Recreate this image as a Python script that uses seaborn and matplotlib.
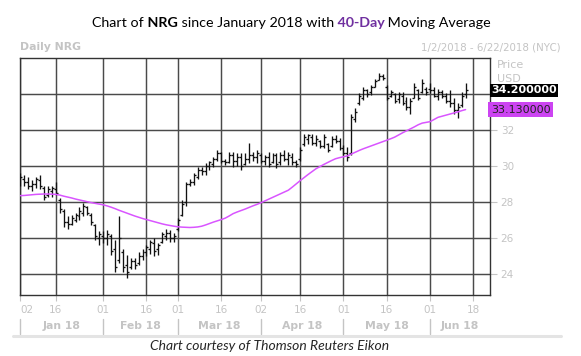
import numpy as np
import pandas as pd
import matplotlib
matplotlib.use("Agg")
import matplotlib.pyplot as plt
import matplotlib.transforms as mtransforms
from matplotlib.lines import Line2D
import seaborn as sns

# NRG daily bars from 2 Jan 2018
opens = [29.0, 29.3, 29.1, 28.9, 29.0, 29.2, 28.8, 28.4, 28.6, 28.7,
         28.1, 27.5, 26.9, 26.8, 27.0, 27.2, 27.4, 27.7, 27.3, 26.7, 26.0,
         26.1, 26.0, 26.1, 25.4, 24.8, 25.2, 24.5, 24.4, 24.7, 24.6,
         25.0, 25.2, 25.4, 25.7, 25.4, 25.8, 26.1, 26.3, 26.0,
         26.5, 27.3, 28.0, 29.0, 29.1, 29.4, 29.8, 29.7, 30.0, 30.1,
         30.4, 30.7, 30.3, 30.2, 30.6, 30.3, 30.5, 30.1, 30.4, 30.6, 30.5,
         30.6, 30.3, 30.5, 30.2, 30.6, 30.2, 30.6, 30.4, 30.5, 30.2,
         30.4, 31.2, 31.5, 31.6, 31.3, 31.4, 31.1, 31.2, 31.1, 31.5, 31.4,
         31.0, 30.7, 30.7, 32.6, 33.5, 33.8, 34.2, 34.1, 34.4, 34.8,
         35.0, 34.4, 33.9, 34.0, 33.7, 33.9, 33.6, 33.3, 33.8, 34.2, 34.1, 34.3,
         34.3, 34.2, 33.9, 34.1, 33.9, 33.6, 33.5, 33.1, 33.4, 34.0]
highs = [29.6, 29.5, 29.4, 29.2, 29.4, 29.5, 28.9, 28.9, 28.9, 29.1,
         28.2, 27.6, 27.2, 27.3, 27.4, 27.7, 27.95, 27.8, 27.4, 26.8, 26.4,
         26.4, 26.45, 26.2, 25.9, 27.2, 25.4, 25.05, 24.9, 24.9, 25.2,
         25.4, 25.6, 25.9, 26.0, 25.7, 26.35, 26.5, 26.45, 26.3,
         27.1, 28.1, 29.1, 29.3, 29.6, 29.95, 29.95, 30.15, 30.3, 30.5,
         30.9, 30.8, 30.4, 30.8, 30.8, 30.7, 30.7, 30.7, 31.25, 30.8, 30.9,
         30.7, 30.6, 30.8, 30.7, 30.7, 30.8, 30.9, 30.8, 30.7, 30.35,
         31.05, 31.8, 31.8, 31.8, 31.7, 31.45, 31.8, 31.25, 31.65, 31.7, 31.55,
         31.15, 31.05, 32.9, 33.2, 34.05, 34.4, 34.3, 34.5, 34.85, 35.15,
         35.1, 34.5, 34.2, 34.05, 34.1, 34.1, 33.85, 33.75, 34.6, 34.25, 34.85, 34.4,
         34.6, 34.4, 34.3, 34.2, 34.05, 34.2, 33.75, 33.5, 34.1, 34.6]
lows = [28.9, 28.9, 28.7, 28.6, 28.8, 28.7, 28.1, 28.3, 28.3, 28.4,
        27.4, 26.6, 26.5, 26.7, 26.9, 27.0, 27.2, 27.3, 26.7, 25.9, 25.6,
        25.7, 25.6, 25.05, 24.1, 24.6, 24.1, 23.75, 24.3, 24.3, 24.5,
        24.8, 25.0, 25.1, 25.0, 25.05, 25.7, 25.9, 25.8, 25.8,
        26.4, 27.2, 27.75, 28.9, 28.95, 29.3, 29.5, 29.5, 29.8, 29.95,
        30.25, 30.15, 30.05, 30.15, 29.95, 30.0, 29.8, 30.05, 30.15, 30.3, 30.15,
        30.15, 30.05, 29.95, 30.15, 29.9, 30.05, 30.25, 30.05, 30.05, 29.95,
        30.3, 31.1, 31.2, 31.15, 31.1, 31.0, 31.0, 30.8, 31.05, 31.25, 30.9,
        30.6, 30.3, 30.6, 32.45, 33.4, 33.65, 33.85, 33.95, 34.4, 34.8,
        34.8, 33.65, 33.85, 33.5, 33.5, 33.4, 33.1, 32.9, 33.75, 33.65, 34.05, 33.95,
        34.05, 33.85, 33.65, 33.75, 33.5, 33.3, 32.9, 32.65, 33.3, 33.8]
closes = [29.4, 29.1, 28.9, 29.0, 29.3, 28.9, 28.3, 28.7, 28.8, 28.5,
          27.6, 26.9, 26.8, 27.1, 27.3, 27.5, 27.8, 27.4, 26.9, 26.1, 26.2,
          26.0, 26.2, 25.3, 24.4, 26.0, 24.4, 24.1, 24.7, 24.5, 25.0,
          25.2, 25.5, 25.8, 25.3, 25.6, 26.2, 26.3, 26.0, 26.1,
          27.0, 27.9, 29.0, 29.1, 29.5, 29.8, 29.7, 30.0, 30.2, 30.4,
          30.7, 30.3, 30.2, 30.6, 30.3, 30.5, 30.0, 30.4, 30.6, 30.5, 30.7,
          30.3, 30.5, 30.1, 30.6, 30.1, 30.6, 30.4, 30.6, 30.2, 30.1,
          30.9, 31.6, 31.7, 31.3, 31.5, 31.1, 31.6, 30.9, 31.5, 31.4, 31.0,
          30.7, 30.5, 32.7, 33.0, 33.9, 34.2, 34.0, 34.4, 34.7, 35.0,
          34.9, 33.8, 34.1, 33.6, 34.0, 33.5, 33.3, 33.6, 34.4, 33.8, 34.6, 34.1,
          34.2, 33.9, 34.1, 33.9, 33.6, 33.5, 33.1, 33.3, 33.9, 34.2]
# 40-day moving average as drawn
ma40 = [28.35, 28.36, 28.38, 28.40, 28.42, 28.43, 28.44, 28.44, 28.43, 28.42,
        28.38, 28.32, 28.27, 28.22, 28.16, 28.11, 28.06, 28.01, 27.96, 27.92, 27.88,
        27.84, 27.78, 27.71, 27.63, 27.54, 27.46, 27.38, 27.30, 27.22, 27.15,
        27.08, 27.02, 26.96, 26.90, 26.84, 26.78, 26.73, 26.69, 26.65,
        26.62, 26.60, 26.59, 26.58, 26.59, 26.61, 26.65, 26.72, 26.80, 26.88,
        26.95, 27.02, 27.10, 27.22, 27.35, 27.44, 27.52, 27.60, 27.69, 27.78, 27.86,
        27.95, 28.05, 28.15, 28.25, 28.35, 28.45, 28.55, 28.65, 28.82, 29.00,
        29.18, 29.35, 29.52, 29.68, 29.84, 29.96, 30.08, 30.19, 30.30, 30.40, 30.46,
        30.51, 30.56, 30.66, 30.76, 30.86, 30.95, 31.03, 31.11, 31.19, 31.27,
        31.35, 31.43, 31.51, 31.60, 31.72, 31.84, 31.95, 32.06, 32.17, 32.29, 32.38, 32.42,
        32.46, 32.58, 32.70, 32.76, 32.82, 32.88, 32.94, 33.00, 33.07, 33.13]

tick_days = ["2018-01-02", "2018-01-16", "2018-02-01", "2018-02-16", "2018-03-01", "2018-03-16",
             "2018-04-02", "2018-04-16", "2018-05-01", "2018-05-16", "2018-06-01", "2018-06-18"]
tick_labels = ["02", "16", "01", "16", "01", "16", "02", "16", "01", "16", "01", "18"]
months = ["Jan 18", "Feb 18", "Mar 18", "Apr 18", "May 18", "Jun 18"]
month_starts = ["2018-01-02", "2018-02-01", "2018-03-01", "2018-04-02", "2018-05-01", "2018-06-01"]
price_ticks = [24, 26, 28, 30, 32, 34]
price_labels = ["24", "26", "28", "30", "32", ""]  # 34 sits under the last-price tag
last_price = 34.20
last_ma = 33.13

# trading-day axis (NYSE holidays removed)
holidays = pd.to_datetime(["2018-01-15", "2018-02-19", "2018-03-30", "2018-05-28"])
days = pd.bdate_range("2018-01-02", "2018-06-22")
days = days[~days.isin(holidays)]
pos = {d: i for i, d in enumerate(days)}

n = len(closes)
df = pd.DataFrame({"day": days[:n], "open": opens, "high": highs, "low": lows,
                   "close": closes, "ma": ma40})
df["x"] = np.arange(n)

sns.set_theme(style="white")
plt.rcParams["font.family"] = ["DejaVu Sans"]

W, H = 581, 356
fig = plt.figure(figsize=(W / 100, H / 100), dpi=100)
ax = fig.add_axes([20 / W, 1 - 294.8 / H, 469.6 / W, 236.5 / H])

light = "#c4c4c4"
grid = "#4a4a4a"

# OHLC bars
ax.vlines(df.x, df.low, df.high, color="#111111", lw=0.95, zorder=3)
ax.hlines(df.open, df.x - 0.5, df.x, color="#111111", lw=0.95, zorder=3)
ax.hlines(df.close, df.x, df.x + 0.5, color="#111111", lw=0.95, zorder=3)

sns.lineplot(data=df, x="x", y="ma", color="#d955ff", lw=1.1, ax=ax, zorder=4)

ax.set_xlim(-0.1, 119.1)
ax.set_ylim(22.84, 35.98)
ax.set_xlabel("")
ax.set_ylabel("")

xt = [pos[pd.Timestamp(d)] for d in tick_days]
ax.set_xticks(xt)
ax.set_xticklabels(tick_labels)
ax.get_xticklabels()[0].set_ha("left")
ax.set_yticks(price_ticks)
ax.set_yticklabels(price_labels)
ax.yaxis.tick_right()
ax.grid(True, color=grid, lw=1.05)
ax.set_axisbelow(True)
ax.tick_params(axis="x", bottom=True, length=4, width=0.8, color=light,
               labelcolor=light, labelsize=7.5, pad=3)
ax.tick_params(axis="y", right=True, left=False, length=5, width=0.8, color=light,
               labelcolor=light, labelsize=7.5, pad=3)
for s in ax.spines.values():
    s.set_color("#333333")
    s.set_linewidth(1.0)

# last value tags on the price scale
tr = mtransforms.blended_transform_factory(ax.transAxes, ax.transData)
ax.text(1.003, last_price, f"{last_price:.6f}", transform=tr, ha="left", va="center",
        color="white", fontsize=8, fontweight="bold", zorder=10, clip_on=False,
        bbox=dict(boxstyle="square,pad=0.12", fc="black", ec="none"))
ax.text(1.003, last_ma, f"{last_ma:.6f}", transform=tr, ha="left", va="center",
        color="#222222", fontsize=8, zorder=10, clip_on=False,
        bbox=dict(boxstyle="square,pad=0.25", fc="#cc44f2", ec="none"))

fig.text(497 / W, 1 - 65 / H, "Price", color=light, fontsize=8, va="center")
fig.text(497 / W, 1 - 79 / H, "USD", color=light, fontsize=8, va="center")

# headers
fig.text(20 / W, 1 - 47.3 / H, "Daily NRG", color=light, fontsize=7.8,
         fontweight="bold", va="center")
fig.text(561 / W, 1 - 47.3 / H, "1/2/2018 - 6/22/2018 (NYC)", color=light,
         fontsize=7.4, ha="right", va="center")

# title with mixed styling
parts = [("Chart of", "normal", "black"), (" NRG", "bold", "black"),
         (" since January 2018 with", "normal", "black"), (" 40-Day", "bold", "#7030a0"),
         (" Moving Average", "normal", "black")]
t = fig.text(92 / W, 1 - 23 / H, parts[0][0], fontsize=10.3, family="Lato",
             color=parts[0][2], va="center")
for s, w, c in parts[1:]:
    t = ax.annotate(s, xy=(1, 0), xycoords=t, va="bottom", ha="left", fontsize=10.3,
                    family="Lato", fontweight=w, color=c, annotation_clip=False)

# month band under the axis
tx = mtransforms.blended_transform_factory(ax.transData, fig.transFigure)
ms = [pos[pd.Timestamp(d)] for d in month_starts]
edges = ms + [119.1]
for i, m in enumerate(months):
    ax.plot([ms[i], ms[i]], [1 - 319 / H, 1 - 334 / H], transform=tx, color=light,
            lw=1.0, clip_on=False)
    ax.text((edges[i] + edges[i + 1]) / 2, 1 - 326.3 / H, m, transform=tx,
            ha="center", va="center", color=light, fontsize=7.8, fontweight="bold")
fig.add_artist(Line2D([13 / W, 561 / W], [1 - 335.6 / H] * 2, color="#e4e4e4", lw=2.2))

fig.text(270 / W, 1 - 346 / H, "Chart courtesy of Thomson Reuters Eikon",
         family="Lato", style="italic", fontsize=10, ha="center", va="center")

fig.savefig("out.png", dpi=100, facecolor="white")
